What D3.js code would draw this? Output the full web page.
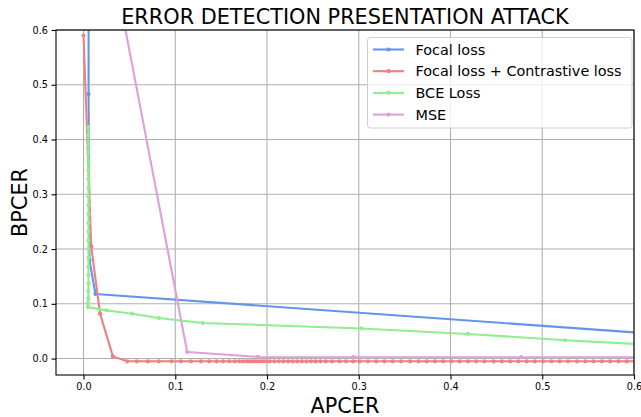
<!DOCTYPE html>
<html>
<head>
<meta charset="utf-8">
<script src="https://cdn.jsdelivr.net/npm/d3@7"></script>
<style>
  html, body { margin: 0; padding: 0; background: #fff; }
  svg { display: block; font-family: "DejaVu Sans", sans-serif; }
</style>
</head>
<body>
<div id="root" style="width:641px;height:417px"></div>
<script>
// series names + colours, in legend order
var seriesNames = ["Focal loss", "Focal loss + Contrastive loss", "BCE Loss", "MSE"];
var seriesColors = ["#6495ED", "#F08080", "#90EE90", "#DDA0DD"];

var xTicks = [0.0, 0.1, 0.2, 0.3, 0.4, 0.5, 0.6];
var yTicks = [0.0, 0.1, 0.2, 0.3, 0.4, 0.5, 0.6];

// [APCER, BPCER] points
var focalLoss = [[0.0055, 1.0], [0.0055, 0.483], [0.0065, 0.18], [0.013, 0.118], [1.0, 0.0]];

var focalContrastive = [
    [0.0, 0.59], [0.0084, 0.205], [0.018, 0.082], [0.032, 0.004], [0.0476, -0.005],
    [0.058, -0.005], [0.070, -0.005], [0.082, -0.005], [0.096, -0.005], [0.106, -0.005],
    [0.117, -0.005], [0.128, -0.005], [0.137, -0.005], [0.145, -0.005], [0.152, -0.005],
    [0.159, -0.005], [0.165, -0.005], [0.170, -0.005], [0.174, -0.005], [0.178, -0.005],
    [0.181, -0.005], [0.184, -0.005], [0.187, -0.005], [0.190, -0.005], [0.193, -0.005],
    [0.196, -0.005], [0.199, -0.005], [0.203, -0.005], [0.208, -0.005], [0.213, -0.005],
    [0.218, -0.005], [0.223, -0.005], [0.228, -0.005], [0.233, -0.005], [0.238, -0.005],
    [0.243, -0.005], [0.248, -0.005], [0.253, -0.005], [0.258, -0.005], [0.264, -0.005],
    [0.271, -0.005], [0.279, -0.005], [0.286, -0.005], [0.294, -0.005], [0.301, -0.005],
    [0.310, -0.005], [0.319, -0.005], [0.328, -0.005], [0.337, -0.005], [0.346, -0.005],
    [0.356, -0.005], [0.365, -0.005], [0.374, -0.005], [0.383, -0.005], [0.392, -0.005],
    [0.401, -0.005], [0.410, -0.005], [0.419, -0.005], [0.428, -0.005], [0.437, -0.005],
    [0.447, -0.005], [0.456, -0.005], [0.465, -0.005], [0.474, -0.005], [0.483, -0.005],
    [0.492, -0.005], [0.501, -0.005], [0.510, -0.005], [0.519, -0.005], [0.528, -0.005],
    [0.538, -0.005], [0.547, -0.005], [0.556, -0.005], [0.565, -0.005], [0.574, -0.005],
    [0.583, -0.005], [0.592, -0.005], [0.601, -0.005]
];

var bceLoss = [
    [0.0052, 0.423], [0.0052, 0.408], [0.0053, 0.392], [0.0053, 0.376], [0.0054, 0.360],
    [0.0054, 0.344], [0.0054, 0.328], [0.0054, 0.312], [0.0054, 0.296], [0.0054, 0.280],
    [0.0054, 0.264], [0.0054, 0.248], [0.0054, 0.232], [0.0054, 0.216], [0.0054, 0.200],
    [0.0054, 0.184], [0.0054, 0.168], [0.0054, 0.152], [0.0054, 0.137], [0.0053, 0.123],
    [0.0052, 0.110], [0.0050, 0.101], [0.0047, 0.094],
    [0.025, 0.088], [0.053, 0.082], [0.082, 0.074], [0.13, 0.065], [0.303, 0.055],
    [0.419, 0.045], [0.525, 0.0335], [0.7, 0.018]
];

var mse = [[0.0, 1.0], [0.113, 0.012], [0.19, 0.003], [0.294, 0.0025], [0.477, 0.0025], [0.7, 0.0025]];

var allSeries = [focalLoss, focalContrastive, bceLoss, mse];

function generate(selector) {
    var width = 641,
        height = 417,
        margin = {left: 56, right: 7, top: 30, bottom: 42};

    var x = d3.scaleLinear()
        .domain([-0.03, 0.6])
        .range([margin.left, width - margin.right]);
    var y = d3.scaleLinear()
        .domain([-0.03, 0.6])
        .range([height - margin.bottom, margin.top]);

    d3.select(selector).select("svg").remove();

    var svg = d3.select(selector).append("svg")
        .attr("width", width)
        .attr("height", height);

    svg.append("defs").append("clipPath")
        .attr("id", "plotclip")
        .append("rect")
        .attr("x", x.range()[0])
        .attr("y", y.range()[1])
        .attr("width", x.range()[1] - x.range()[0])
        .attr("height", y.range()[0] - y.range()[1]);

    // grid
    var grid = svg.append("g").attr("class", "grid");
    grid.selectAll("line.gx")
        .data(xTicks)
        .enter().append("line")
        .attr("class", "gx")
        .attr("x1", function(d) { return x(d); })
        .attr("x2", function(d) { return x(d); })
        .attr("y1", y.range()[0])
        .attr("y2", y.range()[1])
        .attr("stroke", "#b0b0b0")
        .attr("stroke-width", 1.1);
    grid.selectAll("line.gy")
        .data(yTicks)
        .enter().append("line")
        .attr("class", "gy")
        .attr("y1", function(d) { return y(d); })
        .attr("y2", function(d) { return y(d); })
        .attr("x1", x.range()[0])
        .attr("x2", x.range()[1])
        .attr("stroke", "#b0b0b0")
        .attr("stroke-width", 1.1);

    var line = d3.line()
        .x(function(d) { return x(d[0]); })
        .y(function(d) { return y(d[1]); });

    var plot = svg.append("g").attr("clip-path", "url(#plotclip)");

    allSeries.forEach(function(data, i) {
        var g = plot.append("g");
        g.append("path")
            .datum(data)
            .attr("d", line)
            .attr("fill", "none")
            .attr("stroke", seriesColors[i])
            .attr("stroke-width", 2.1)
            .attr("stroke-linejoin", "round");
        g.selectAll("circle")
            .data(data)
            .enter().append("circle")
            .attr("cx", function(d) { return x(d[0]); })
            .attr("cy", function(d) { return y(d[1]); })
            .attr("r", 2.1)
            .attr("fill", seriesColors[i]);
    });

    // axes
    var fmt = d3.format(".1f");
    var xAxis = svg.append("g")
        .attr("transform", "translate(0," + y.range()[0] + ")")
        .call(d3.axisBottom(x).tickValues(xTicks).tickFormat(fmt).tickSize(4.5).tickSizeOuter(0).tickPadding(3.5));
    var yAxis = svg.append("g")
        .attr("transform", "translate(" + x.range()[0] + ",0)")
        .call(d3.axisLeft(y).tickValues(yTicks).tickFormat(fmt).tickSize(4.5).tickSizeOuter(0).tickPadding(3.5));
    [xAxis, yAxis].forEach(function(a) {
        a.select(".domain").remove();
        a.selectAll(".tick line").attr("stroke", "#000").attr("stroke-width", 1.1);
        a.selectAll(".tick text")
            .attr("font-family", "DejaVu Sans")
            .attr("font-size", 9.7)
            .attr("fill", "#000");
    });

    // frame
    svg.append("rect")
        .attr("x", x.range()[0])
        .attr("y", y.range()[1])
        .attr("width", x.range()[1] - x.range()[0])
        .attr("height", y.range()[0] - y.range()[1])
        .attr("fill", "none")
        .attr("stroke", "#000")
        .attr("stroke-width", 1.1);

    // labels
    svg.append("text")
        .attr("x", (x.range()[0] + x.range()[1]) / 2)
        .attr("y", 24)
        .attr("text-anchor", "middle")
        .attr("font-size", 20.8)
        .text("ERROR DETECTION PRESENTATION ATTACK");
    svg.append("text")
        .attr("x", (x.range()[0] + x.range()[1]) / 2)
        .attr("y", 413)
        .attr("text-anchor", "middle")
        .attr("font-size", 20.8)
        .text("APCER");
    svg.append("text")
        .attr("transform", "translate(27," + ((y.range()[0] + y.range()[1]) / 2) + ") rotate(-90)")
        .attr("text-anchor", "middle")
        .attr("font-size", 20.8)
        .text("BPCER");

    // legend
    var legend = svg.append("g").attr("transform", "translate(367.5,37.5)");
    legend.append("rect")
        .attr("width", 264.5)
        .attr("height", 90.5)
        .attr("rx", 3)
        .attr("fill", "#fff")
        .attr("fill-opacity", 0.8)
        .attr("stroke", "#d0d0d0")
        .attr("stroke-width", 1);
    var items = legend.selectAll("g.item")
        .data(seriesNames)
        .enter().append("g")
        .attr("class", "item")
        .attr("transform", function(d, i) { return "translate(0," + (12 + i * 21.7) + ")"; });
    items.append("line")
        .attr("x1", 5.5).attr("x2", 36.5)
        .attr("stroke", function(d, i) { return seriesColors[i]; })
        .attr("stroke-width", 2.1);
    items.append("circle")
        .attr("cx", 21).attr("r", 2.1)
        .attr("fill", function(d, i) { return seriesColors[i]; });
    items.append("text")
        .attr("x", 48)
        .attr("y", 5)
        .attr("font-size", 14.4)
        .text(function(d) { return d; });
}

generate("#root");
</script>
</body>
</html>
